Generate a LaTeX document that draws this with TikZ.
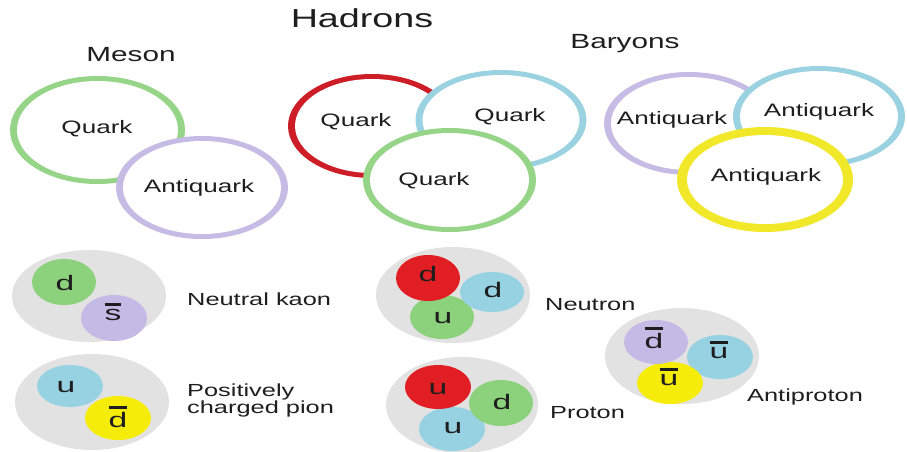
\documentclass[tikz,border=0pt]{standalone}
\usepackage{fontspec}
\setmainfont{Liberation Sans}
\definecolor{txt}{RGB}{30,30,30}
\definecolor{rgreen}{RGB}{150,213,135}
\definecolor{rpurple}{RGB}{196,188,228}
\definecolor{rblue}{RGB}{155,210,225}
\definecolor{rred}{RGB}{205,30,40}
\definecolor{ryellow}{RGB}{240,232,40}
\definecolor{dgray}{RGB}{226,226,226}
\definecolor{dgreen}{RGB}{140,210,125}
\definecolor{dpurple}{RGB}{195,186,230}
\definecolor{dblue}{RGB}{150,210,226}
\definecolor{dred}{RGB}{225,30,35}
\definecolor{dyellow}{RGB}{245,236,10}
\newcommand\sx[1]{\scalebox{1.45}[1]{#1}}
\newcommand\ql[1]{\scalebox{1.6}[1]{#1}}
\newcommand\abar[1]{\vbox{\hrule height 2.5pt\kern 4pt\hbox{#1}}}
\newcommand\ringE[7]{%
  \fill[#7] (#1,#2) ellipse [x radius=#3pt, y radius=#4pt];
  \fill[white] (#1,#2) ellipse [x radius=#5pt, y radius=#6pt];}
\newcommand\discE[5]{\fill[#5] (#1,#2) ellipse [x radius=#3pt, y radius=#4pt];}
\tikzset{
  title/.style={font=\fontsize{26}{28}\selectfont, text=txt, inner sep=0pt},
  subtitle/.style={font=\fontsize{20.5}{22}\selectfont, text=txt, inner sep=0pt},
  lbl/.style={font=\fontsize{18}{20}\selectfont, text=txt, inner sep=0pt},
  side/.style={font=\fontsize{17.5}{18}\selectfont, text=txt, inner sep=0pt, anchor=west},
  qlet/.style={font=\fontsize{21}{22}\selectfont, text=txt, inner sep=0pt}
}
\begin{document}
\begin{tikzpicture}[x=1pt,y=-1pt]
\useasboundingbox (0,0) rectangle (907,451);
\fill[white] (0,0) rectangle (907,451);

% titles
\node[title] (hadrons) at (362,18) {\sx{Hadrons}};
\node[subtitle] (meson) at (131,55) {\sx{Meson}};
\node[subtitle] (baryons) at (625,44) {\sx{Baryons}};

% meson rings
\ringE{97.5}{130}{87.5}{54}{80.5}{49}{rgreen}
\ringE{202}{187.5}{86}{51.5}{79}{46.5}{rpurple}
\node[lbl] (mq) at (97,129) {\sx{Quark}};
\node[lbl] (maq) at (199,188) {\sx{Antiquark}};

% baryon rings
\ringE{372}{126}{84}{52}{77}{47}{rred}
\ringE{501}{120}{85.5}{50}{78.5}{45}{rblue}
\ringE{449.5}{180}{86.5}{52}{79.5}{47}{rgreen}
\node[lbl] (bq1) at (356,122) {\sx{Quark}};
\node[lbl] (bq2) at (510,117) {\sx{Quark}};
\node[lbl] (bq3) at (434,181) {\sx{Quark}};

% antibaryon rings
\ringE{689}{123.5}{85}{51.5}{78}{46.5}{rpurple}
\ringE{819}{116.5}{86}{50.5}{79}{45.5}{rblue}
\ringE{765}{179.5}{88}{52.5}{78}{44.5}{ryellow}
\node[lbl] (aq1) at (672,120) {\sx{Antiquark}};
\node[lbl] (aq2) at (819,112) {\sx{Antiquark}};
\node[lbl] (aq3) at (766,177) {\sx{Antiquark}};

% neutral kaon
\discE{89}{296}{77}{46}{dgray}
\discE{64}{282}{32}{23}{dgreen}
\discE{114}{318}{33}{23}{dpurple}
\node[qlet] (k1) at (65,283) {\ql{d}};
\node[qlet] (k2) at (113,312) {\ql{\abar{s}}};
\node[side] (kaon) at (187,299) {\sx{Neutral kaon}};

% pion
\discE{92}{402}{77}{48}{dgray}
\discE{70}{386}{33}{21}{dblue}
\discE{118}{418}{33}{22}{dyellow}
\node[qlet] (p1) at (66,387) {\ql{u}};
\node[qlet] (p2) at (118,417) {\ql{\abar{d}}};
\node[side] (pion) at (187,401.5) {\sx{\begin{tabular}{@{}l@{}}Positively\\[-1pt]charged pion\end{tabular}}};

% neutron
\discE{453}{295}{77}{48}{dgray}
\discE{442}{317}{32}{22}{dgreen}
\discE{492}{292}{32}{20}{dblue}
\discE{428}{278}{32}{23}{dred}
\node[qlet] (n1) at (428,274) {\ql{d}};
\node[qlet] (n2) at (493,290) {\ql{d}};
\node[qlet] (n3) at (443,318) {\ql{u}};
\node[side] (neutron) at (545,305) {\sx{Neutron}};

% proton
\discE{462}{405}{76}{48}{dgray}
\discE{452}{429}{33}{22}{dblue}
\discE{501}{403}{32}{23}{dgreen}
\discE{438}{387}{33}{22}{dred}
\node[qlet] (r1) at (438,389) {\ql{u}};
\node[qlet] (r2) at (502,402) {\ql{d}};
\node[qlet] (r3) at (453,428) {\ql{u}};
\node[side] (proton) at (550,413) {\sx{Proton}};

% antiproton
\discE{682}{356}{77}{48}{dgray}
\discE{720}{357}{33}{22}{dblue}
\discE{670}{383}{33}{21}{dyellow}
\discE{656}{342}{32}{22}{dpurple}
\node[qlet] (a1) at (654,338) {\ql{\abar{d}}};
\node[qlet] (a2) at (719,350) {\ql{\abar{u}}};
\node[qlet] (a3) at (669,377) {\ql{\abar{u}}};
\node[side] (antiproton) at (747,397) {\sx{Antiproton}};
\end{tikzpicture}
\end{document}
